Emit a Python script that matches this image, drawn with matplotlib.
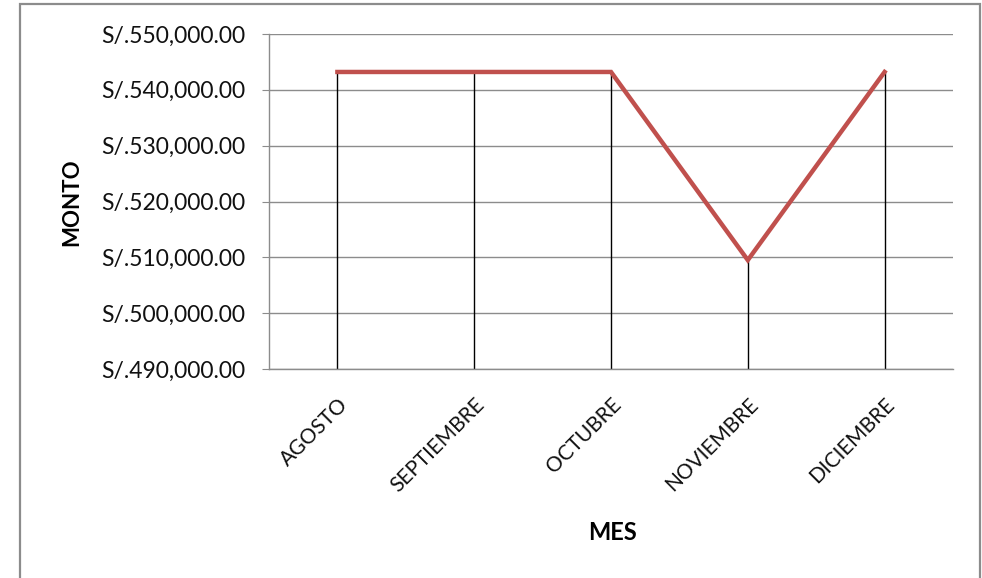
import matplotlib
matplotlib.use("Agg")
import matplotlib.pyplot as plt
from matplotlib.patches import Rectangle
from matplotlib.ticker import FuncFormatter, MultipleLocator

# monthly amounts
meses = ["AGOSTO", "SEPTIEMBRE", "OCTUBRE", "NOVIEMBRE", "DICIEMBRE"]
montos = [543200, 543200, 543200, 509500, 543200]

y_min, y_max, y_step = 490000, 550000, 10000

plt.rcParams['font.family'] = ['Lato', 'DejaVu Sans']

fig = plt.figure(figsize=(9.82, 5.78), dpi=100)
ax = fig.add_axes([269 / 982, 1 - 369 / 578, (953 - 269) / 982, (369 - 34) / 578])

# chart frame (runs past the bottom of the image)
fig.patches.append(Rectangle((20 / 982, -0.1), (980 - 20) / 982, 1.1 - 4 / 578,
                             transform=fig.transFigure, fill=False,
                             edgecolor='#8c8c8c', lw=1.6))

x = list(range(len(meses)))
ax.vlines(x, y_min, montos, color='black', lw=1, zorder=2)
ax.plot(x, montos, color='#C0504D', lw=3.2, solid_joinstyle='miter', zorder=3)

ax.set_xlim(-0.5, len(meses) - 0.5)
ax.set_ylim(y_min, y_max)
ax.yaxis.set_major_locator(MultipleLocator(y_step))
ax.yaxis.set_major_formatter(FuncFormatter(lambda v, p: "S/.{:,.2f}".format(v)))
ax.grid(axis='y', color='#8c8c8c', lw=1, zorder=1)

for side in ['top', 'right']:
    ax.spines[side].set_visible(False)
for side in ['left', 'bottom']:
    ax.spines[side].set_color('#8c8c8c')
    ax.spines[side].set_linewidth(1)

ax.tick_params(axis='y', length=5, color='#8c8c8c', labelsize=16.5, pad=12,
               labelcolor='#111111')
ax.tick_params(axis='x', length=0, labelsize=15, pad=18, labelcolor='#111111')
ax.set_xticks(x)
ax.set_xticklabels(meses, rotation=45, ha='right', va='top', rotation_mode='anchor')

fig.text(612 / 982, 1 - 533 / 578, "MES", fontsize=17, fontweight='bold',
         ha='center', va='center')
fig.text(72 / 982, 1 - 202 / 578, "MONTO", fontsize=16, fontweight='bold',
         ha='center', va='center', rotation=90)

fig.savefig("out.png", dpi=100)
